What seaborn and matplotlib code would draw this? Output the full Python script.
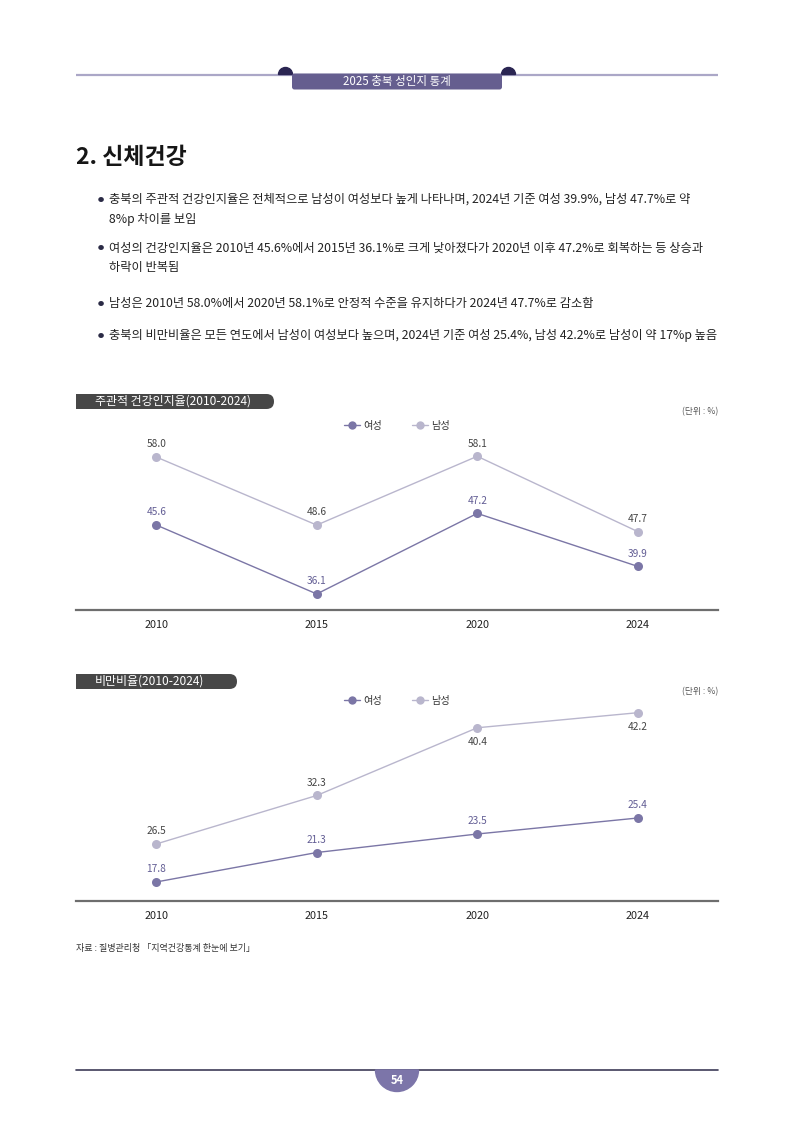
import matplotlib
matplotlib.use('Agg')
import matplotlib.pyplot as plt
import seaborn as sns
import pandas as pd
from matplotlib.patches import FancyBboxPatch, Rectangle, Wedge
from matplotlib.lines import Line2D

# ---------------- data ----------------
years = ["2010", "2015", "2020", "2024"]
series_names = ["여성", "남성"]
health_female = [45.6, 36.1, 47.2, 39.9]
health_male = [58.0, 48.6, 58.1, 47.7]
obesity_female = [17.8, 21.3, 23.5, 25.4]
obesity_male = [26.5, 32.3, 40.4, 42.2]

chart_titles = ["주관적 건강인지율(2010-2024)", "비만비율(2010-2024)"]
unit_text = "(단위 : %)"
header_text = "2025 충북 성인지 통계"
section_title = "2. 신체건강"
bullets = [
    ["충북의 주관적 건강인지율은 전체적으로 남성이 여성보다 높게 나타나며, 2024년 기준 여성 39.9%, 남성 47.7%로 약",
     "8%p 차이를 보임"],
    ["여성의 건강인지율은 2010년 45.6%에서 2015년 36.1%로 크게 낮아졌다가 2020년 이후 47.2%로 회복하는 등 상승과",
     "하락이 반복됨"],
    ["남성은 2010년 58.0%에서 2020년 58.1%로 안정적 수준을 유지하다가 2024년 47.7%로 감소함"],
    ["충북의 비만비율은 모든 연도에서 남성이 여성보다 높으며, 2024년 기준 여성 25.4%, 남성 42.2%로 남성이 약 17%p 높음"],
]
source_text = "자료 : 질병관리청 「지역건강통계 한눈에 보기」"
page_number = "54"

# ---------------- style ----------------
sns.set_theme(style="white")
plt.rcParams['font.family'] = ['Noto Sans CJK KR', 'DejaVu Sans']

FEM = "#7b76a6"
MAL = "#b9b6cd"
FEM_TXT = "#625d94"
MAL_TXT = "#444444"

W, H = 794, 1123
fig = plt.figure(figsize=(W / 100, H / 100), dpi=100)
fig.patch.set_facecolor("white")


def fx(x):
    return x / W


def fy(y):
    return 1 - y / H


# background axes in pixel coordinates
bg = fig.add_axes([0, 0, 1, 1])
bg.set_xlim(0, W)
bg.set_ylim(H, 0)
bg.axis("off")

# header
bg.plot([76, 718], [74.5, 74.5], color="#aba7c7", lw=1.6, solid_capstyle="butt", zorder=1)
bg.add_patch(Wedge((285.5, 74.5), 7, 180, 360, color="#2a2552", zorder=2))
bg.add_patch(Wedge((508.5, 74.5), 7, 180, 360, color="#2a2552", zorder=2))
bg.add_patch(FancyBboxPatch((292, 73.5), 210, 16, boxstyle="round,pad=0,rounding_size=2.5",
                            fc="#655e8f", ec="none", zorder=3))
bg.text(397, 82, header_text, color="white", fontsize=8.3, ha="center", va="center", zorder=4)

# section title
bg.text(76, 158, section_title, fontsize=16.5, fontweight="bold", color="#161616",
        ha="left", va="center")

# bullets
line_y = [[199, 219], [248, 268], [304], [336]]
for lines, ys in zip(bullets, line_y):
    bg.text(101, ys[0] + 0.5, "●", fontsize=4.5, color="#2a2a45", ha="center", va="center")
    for t, y in zip(lines, ys):
        bg.text(109, y, t, fontsize=8.8, color="#222222", ha="left", va="center")


def tab(x0, x1, yc, text):
    h = 15
    bg.add_patch(FancyBboxPatch((x0, yc - h / 2), x1 - x0, h,
                                boxstyle="round,pad=0,rounding_size=7.5",
                                fc="#474747", ec="none", zorder=2))
    bg.add_patch(Rectangle((x0, yc - h / 2), 20, h, fc="#474747", ec="none", zorder=2))
    bg.text(x0 + 19, yc - 0.5, text, color="white", fontsize=8.6, ha="left", va="center", zorder=3)


tab(76, 274, 401.5, chart_titles[0])
tab(76, 237, 681.5, chart_titles[1])
bg.text(718, 412, unit_text, fontsize=6.3, color="#555555", ha="right", va="center")
bg.text(718, 692, unit_text, fontsize=6.3, color="#555555", ha="right", va="center")

# source & footer
bg.text(76, 948, source_text, fontsize=6.5, color="#333333", ha="left", va="center")
bg.plot([76, 718], [1070, 1070], color="#3d3b58", lw=1.2, zorder=1)
bg.add_patch(Wedge((397, 1070), 21.5, 0, 180, color="#7c75a9", zorder=2))
bg.text(397, 1081, page_number, color="white", fontsize=8, fontweight="bold",
        ha="center", va="center", zorder=3)


def draw_chart(top, bottom, female, male, ylim_f, ylim_m, male_below, legend_y):
    ax = fig.add_axes([fx(76), fy(bottom), fx(718) - fx(76), fy(top) - fy(bottom)])
    ax.patch.set_alpha(0)
    ax2 = ax.twinx()
    ax2.patch.set_alpha(0)
    idx = list(range(len(years)))
    df_f = pd.DataFrame({"x": idx, "v": female})
    df_m = pd.DataFrame({"x": idx, "v": male})
    sns.lineplot(data=df_f, x="x", y="v", ax=ax, color=FEM, lw=1.0, marker="o",
                 markersize=6.5, markeredgewidth=0, zorder=3)
    sns.lineplot(data=df_m, x="x", y="v", ax=ax2, color=MAL, lw=1.0, marker="o",
                 markersize=6.5, markeredgewidth=0, zorder=3)
    for a, lim in ((ax, ylim_f), (ax2, ylim_m)):
        a.set_ylim(*lim)
        a.set_xlim(-0.5, len(years) - 0.5)
        a.set_yticks([])
        a.set_ylabel("")
        a.set_xlabel("")
        for s in ("top", "left", "right"):
            a.spines[s].set_visible(False)
    ax2.spines["bottom"].set_visible(False)
    ax.spines["bottom"].set_color("#6e6e6e")
    ax.spines["bottom"].set_linewidth(1.6)
    ax.set_xticks(idx)
    ax.set_xticklabels(years)
    ax.tick_params(axis="x", length=0, pad=7, labelsize=7.8, labelcolor="#222222")
    for i, v in enumerate(female):
        ax.annotate(f"{v:.1f}", (i, v), xytext=(0, 7), textcoords="offset points",
                    ha="center", va="baseline", fontsize=7.3, color=FEM_TXT)
    for i, v in enumerate(male):
        dy = -12.5 if male_below[i] else 7
        ax2.annotate(f"{v:.1f}", (i, v), xytext=(0, dy), textcoords="offset points",
                     ha="center", va="baseline", fontsize=7.3, color=MAL_TXT)
    handles = [Line2D([0], [0], color=FEM, lw=1.0, marker="o", markersize=6, markeredgewidth=0),
               Line2D([0], [0], color=MAL, lw=1.0, marker="o", markersize=6, markeredgewidth=0)]
    fig.legend(handles, series_names, ncol=2, loc="center",
               bbox_to_anchor=(fx(397), fy(legend_y)), frameon=False,
               handlelength=1.6, handletextpad=0.3, columnspacing=3.0, fontsize=7.3,
               labelcolor="#333333")


draw_chart(440, 610, health_female, health_male, (33.89, 57.31), (36.87, 60.35),
           [False, False, False, False], 426)
draw_chart(700, 901, obesity_female, obesity_male, (15.54, 39.42), (19.68, 43.72),
           [False, False, True, True], 701)

fig.savefig("out.png", dpi=100, facecolor="white")
